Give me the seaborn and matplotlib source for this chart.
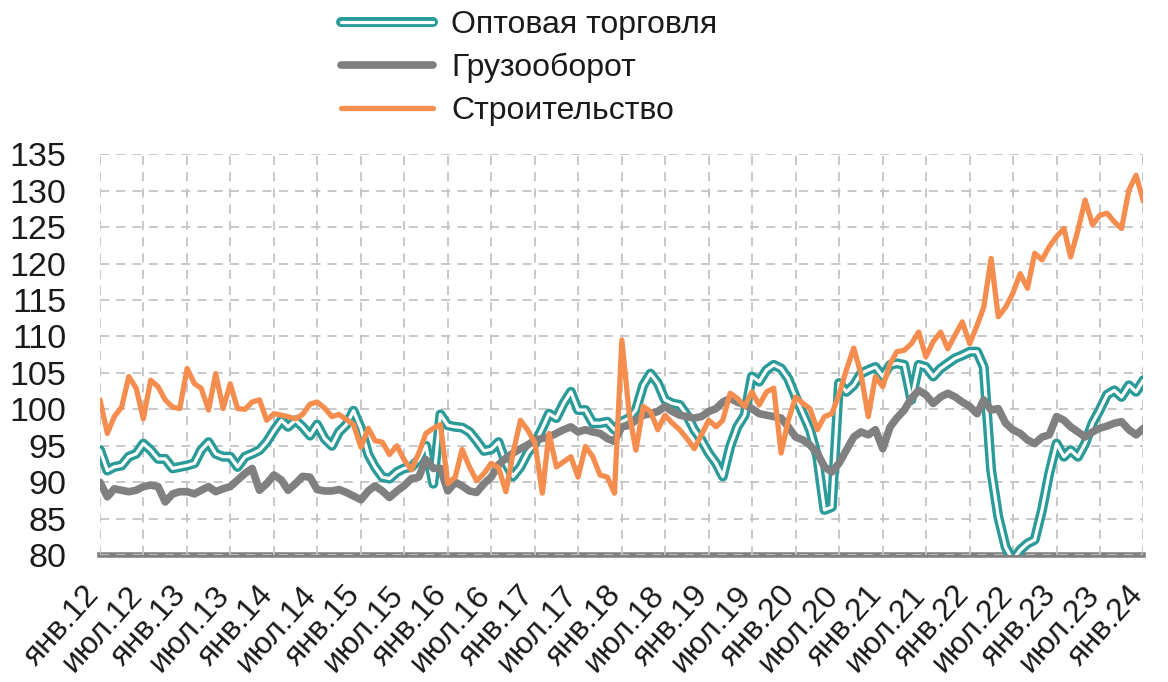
import numpy as np
import pandas as pd
import matplotlib
matplotlib.use("Agg")
import matplotlib.pyplot as plt
import matplotlib.dates as mdates
import matplotlib.patheffects as pe
import matplotlib.transforms as mtransforms
from matplotlib.ticker import FuncFormatter, MultipleLocator
import seaborn as sns

# ---- data (monthly, Jan 2012 - Jan 2024) ----
months = pd.date_range("2012-01-01", "2024-01-01", freq="MS")

trade = [
    94.4, 91.6, 92.1, 92.3, 93.5, 93.9, 95.3, 94.4, 93.2, 93.2, 91.9, 92.1,
    92.3, 92.6, 94.4, 95.5, 93.9, 93.5, 93.5, 92.1, 93.5, 93.9, 94.4, 95.5,
    97.1, 98.5, 97.6, 98.5, 97.6, 96.4, 97.9, 96.0, 95.0, 96.9, 97.9, 99.8,
    97.4, 93.8, 92.1, 90.7, 90.5, 91.4, 91.9, 92.1, 93.1, 95.0, 89.8, 99.3,
    97.8, 97.6, 97.5, 96.9, 95.7, 94.3, 94.5, 95.5, 92.6, 90.8, 92.1, 94.0,
    95.3, 97.4, 99.4, 98.8, 100.8, 102.4, 99.9, 99.9, 98.1, 98.1, 98.3, 97.2,
    98.3, 98.8, 99.9, 103.3, 104.9, 103.6, 101.3, 100.8, 100.6, 99.2, 97.2, 95.8,
    94.0, 92.6, 90.8, 94.9, 97.6, 99.2, 104.5, 103.8, 105.4, 106.1, 105.6, 104.2,
    101.7, 99.4, 97.2, 93.5, 86.2, 86.6, 103.6, 102.4, 103.3, 104.9, 105.4, 105.8,
    104.5, 106.1, 106.3, 106.1, 101.3, 106.1, 105.8, 104.5, 105.6, 106.3, 107.0, 107.4,
    107.9, 107.9, 105.8, 91.7, 85.3, 81.1, 79.3, 80.7, 81.6, 82.1, 86.2, 91.2,
    95.3, 93.5, 94.4, 93.5, 95.3, 98.1, 99.9, 102.0, 102.6, 101.7, 103.3, 102.4,
    104.0,
]

cargo = [
    90.0, 88.0, 89.1, 88.9, 88.7, 88.9, 89.4, 89.6, 89.4, 87.3, 88.4, 88.7,
    88.7, 88.4, 88.9, 89.4, 88.7, 89.1, 89.4, 90.3, 91.2, 91.9, 88.9, 89.8,
    91.0, 90.3, 88.9, 89.8, 90.8, 90.7, 89.0, 88.8, 88.8, 89.0, 88.6, 88.1,
    87.6, 88.8, 89.5, 88.8, 87.9, 88.8, 89.5, 90.5, 90.7, 93.1, 91.9, 91.9,
    88.8, 90.0, 89.5, 88.8, 88.6, 89.8, 90.7, 92.4, 93.3, 94.0, 94.6, 95.1,
    95.8, 96.0, 96.2, 96.7, 97.2, 97.6, 96.9, 97.2, 96.9, 96.7, 96.0, 95.6,
    97.6, 97.8, 98.5, 99.2, 99.4, 99.7, 100.4, 99.7, 99.2, 99.0, 98.8, 99.0,
    99.7, 100.1, 101.0, 101.5, 101.0, 100.6, 100.1, 99.4, 99.2, 99.0, 98.8, 97.6,
    96.2, 95.8, 95.1, 94.0, 92.1, 91.4, 92.6, 94.4, 96.2, 96.9, 96.5, 97.2,
    94.6, 97.6, 98.8, 99.9, 101.5, 102.6, 102.0, 100.8, 101.7, 102.2, 101.7, 101.0,
    100.4, 99.4, 101.3, 99.9, 100.1, 98.1, 97.2, 96.7, 95.8, 95.3, 96.2, 96.5,
    99.0, 98.5, 97.6, 96.9, 96.2, 96.9, 97.4, 97.7, 98.1, 98.3, 97.2, 96.5,
    97.4,
]

construction = [
    101.3, 96.7, 99.0, 100.3, 104.5, 102.9, 98.7, 104.0, 103.1, 101.3, 100.3, 100.1,
    105.6, 103.5, 102.9, 99.9, 104.9, 100.1, 103.5, 100.1, 100.0, 101.0, 101.3, 98.5,
    99.4, 99.2, 99.0, 98.7, 99.3, 100.7, 101.0, 100.2, 99.0, 99.3, 98.6, 97.9,
    94.8, 97.4, 95.7, 95.5, 93.8, 95.0, 93.1, 91.7, 94.0, 96.7, 97.4, 97.9,
    89.8, 90.7, 94.5, 92.1, 90.2, 91.2, 92.6, 92.0, 88.7, 94.0, 98.5, 97.2,
    95.4, 88.5, 96.7, 92.1, 92.8, 93.5, 90.7, 94.9, 93.5, 91.0, 90.7, 88.5,
    109.5, 99.4, 94.4, 100.4, 99.7, 97.2, 99.2, 98.1, 97.2, 96.0, 94.6, 96.5,
    98.5, 97.6, 98.5, 102.2, 101.5, 100.4, 102.4, 100.6, 102.4, 102.9, 94.0, 98.5,
    101.7, 100.8, 100.1, 97.2, 99.0, 99.4, 102.0, 105.4, 108.4, 104.9, 99.0, 104.5,
    103.1, 106.3, 107.9, 108.1, 109.0, 110.6, 107.2, 109.3, 110.6, 108.3, 110.2, 112.0,
    109.0, 111.5, 114.0, 120.7, 112.7, 114.0, 115.9, 118.6, 116.6, 121.4, 120.5, 122.3,
    123.7, 124.8, 120.9, 124.6, 128.7, 125.3, 126.6, 126.9, 125.7, 124.8, 130.1, 132.1,
    128.5,
]

df = pd.DataFrame({
    "date": months,
    "Оптовая торговля": trade,
    "Грузооборот": cargo,
    "Строительство": construction,
})

month_names = {1: "янв.", 7: "июл."}

# ---- style ----
sns.set_style("white")
plt.rcParams["font.family"] = ["Liberation Sans", "DejaVu Sans"]

teal = "#2a9b99"
gray = "#808080"
orange = "#f58d4f"

fig = plt.figure(figsize=(11.68, 6.82), dpi=100)
ax = fig.add_axes([0.0856, 0.186, 0.8934, 0.588])

# teal line drawn as a hollow double line
sns.lineplot(data=df, x="date", y="Оптовая торговля", ax=ax, color="white",
             linewidth=2.3, label="Оптовая торговля",
             path_effects=[pe.Stroke(linewidth=7.2, foreground=teal), pe.Normal()])
sns.lineplot(data=df, x="date", y="Грузооборот", ax=ax, color=gray,
             linewidth=5.5, label="Грузооборот")
sns.lineplot(data=df, x="date", y="Строительство", ax=ax, color=orange,
             linewidth=3.8, label="Строительство")

ax.set_xlim(months[0], months[-1])
ax.set_ylim(80, 135)
ax.set_xlabel("")
ax.set_ylabel("")

ax.yaxis.set_major_locator(MultipleLocator(5))
ax.xaxis.set_major_locator(mdates.MonthLocator(bymonth=[1, 7]))
ax.xaxis.set_minor_locator(mdates.MonthLocator())


def fmt_month(x, pos):
    d = mdates.num2date(x)
    return month_names.get(d.month, "") + f"{d.year % 100:02d}"


ax.xaxis.set_major_formatter(FuncFormatter(fmt_month))

ax.grid(True, which="major", axis="both", color="#c4c4c4",
        linestyle=(0, (5, 4)), linewidth=1.3)

for s in ["top", "right", "left"]:
    ax.spines[s].set_visible(False)
ax.spines["bottom"].set_color(gray)
ax.spines["bottom"].set_linewidth(4)
ax.spines["bottom"].set_zorder(0.5)

ax.tick_params(axis="y", length=0, pad=24, labelsize=24.5, labelcolor="#1a1a1a")
ax.tick_params(axis="x", which="major", direction="inout", length=12, width=2.5,
               color=gray, labelsize=23, labelcolor="#1a1a1a", pad=12,
               labelrotation=48)
ax.tick_params(axis="x", which="minor", direction="in", length=5, width=1.5,
               color=gray)
shift = mtransforms.ScaledTranslation(-12 / 72, 0, fig.dpi_scale_trans)
for lbl in ax.get_xticklabels():
    lbl.set_ha("right")
    lbl.set_va("top")
    lbl.set_rotation_mode("anchor")
    lbl.set_transform(lbl.get_transform() + shift)

handles, labels = ax.get_legend_handles_labels()
ax.get_legend().remove()
leg = ax.legend(handles, labels, loc="upper left", bbox_to_anchor=(0.289, 0.99),
                bbox_transform=fig.transFigure, frameon=False, fontsize=23,
                handlelength=2.9, handletextpad=0.55, labelspacing=0.4,
                borderaxespad=0, borderpad=0.1)
for t in leg.get_texts():
    t.set_color("#1a1a1a")

fig.savefig("out.png", dpi=100)
